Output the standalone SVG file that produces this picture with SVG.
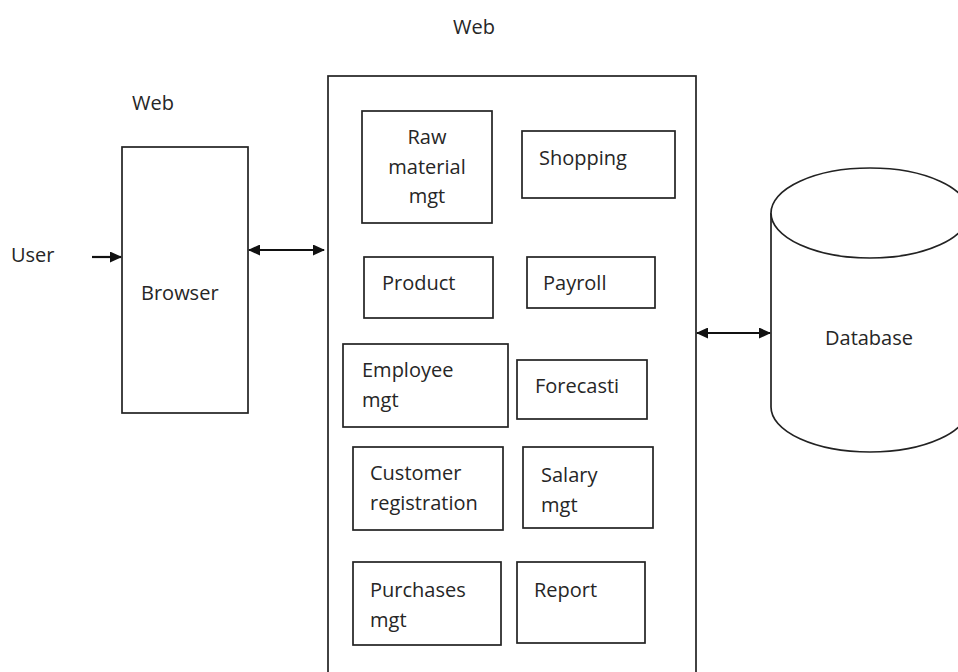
<svg xmlns="http://www.w3.org/2000/svg" width="958" height="672" viewBox="0 0 958 672">
<defs>
<marker id="ah" markerWidth="12" markerHeight="11" refX="11" refY="5.5" orient="auto-start-reverse" markerUnits="userSpaceOnUse">
<path d="M0,0 L12,5.5 L0,11 z" fill="#111"/>
</marker>
<style>
.box{fill:#fff;stroke:#222;stroke-width:1.7}
.t{font-family:"Open Sans","Liberation Sans",sans-serif;font-size:20px;fill:#262626}
.c{stroke:#111;stroke-width:2.2;fill:none}
</style>
</defs>
<rect width="958" height="672" fill="#fff"/>
<g id="label-web-top"><text class="t" x="453" y="34">Web</text></g>
<g id="label-web-left"><text class="t" x="132" y="110">Web</text></g>
<g id="user"><text class="t" x="11" y="262">User</text></g>
<g id="browser">
<rect class="box" x="122" y="147" width="126" height="266"/>
<text class="t" x="141" y="300">Browser</text>
</g>
<g id="web-server">
<rect class="box" x="328" y="76" width="368" height="620"/>
</g>
<g id="raw-material">
<rect class="box" x="362" y="111" width="130" height="112"/>
<text class="t" text-anchor="middle" x="427" y="144">Raw</text>
<text class="t" text-anchor="middle" x="427" y="174">material</text>
<text class="t" text-anchor="middle" x="427" y="203">mgt</text>
</g>
<g id="shopping">
<rect class="box" x="522" y="131" width="153" height="67"/>
<text class="t" x="539" y="165">Shopping</text>
</g>
<g id="product">
<rect class="box" x="364" y="257" width="129" height="61"/>
<text class="t" x="382" y="290">Product</text>
</g>
<g id="payroll">
<rect class="box" x="527" y="257" width="128" height="51"/>
<text class="t" x="543" y="290">Payroll</text>
</g>
<g id="employee">
<rect class="box" x="343" y="344" width="165" height="83"/>
<text class="t" x="362" y="377">Employee</text>
<text class="t" x="362" y="407">mgt</text>
</g>
<g id="forecasting">
<rect class="box" x="517" y="360" width="130" height="59"/>
<text class="t" x="535" y="393">Forecasti</text>
</g>
<g id="customer">
<rect class="box" x="353" y="447" width="150" height="83"/>
<text class="t" x="370" y="480">Customer</text>
<text class="t" x="370" y="510">registration</text>
</g>
<g id="salary">
<rect class="box" x="523" y="447" width="130" height="81"/>
<text class="t" x="541" y="482">Salary</text>
<text class="t" x="541" y="512">mgt</text>
</g>
<g id="purchases">
<rect class="box" x="353" y="562" width="148" height="83"/>
<text class="t" x="370" y="597">Purchases</text>
<text class="t" x="370" y="627">mgt</text>
</g>
<g id="report">
<rect class="box" x="517" y="562" width="128" height="81"/>
<text class="t" x="534" y="597">Report</text>
</g>
<g id="database">
<path class="box" d="M771,213 L771,407 A99,45 0 0 0 969,407 L969,213 A99,45 0 0 0 771,213 Z"/>
<path class="box" d="M771,213 A99,45 0 0 0 969,213" fill="none"/>
<text class="t" text-anchor="middle" x="869" y="345">Database</text>
</g>
<g id="connectors">
<line class="c" x1="92" y1="257" x2="121" y2="257" marker-end="url(#ah)"/>
<line class="c" x1="249" y1="250" x2="324" y2="250" marker-start="url(#ah)" marker-end="url(#ah)"/>
<line class="c" x1="697" y1="333" x2="770" y2="333" marker-start="url(#ah)" marker-end="url(#ah)"/>
</g>
</svg>
